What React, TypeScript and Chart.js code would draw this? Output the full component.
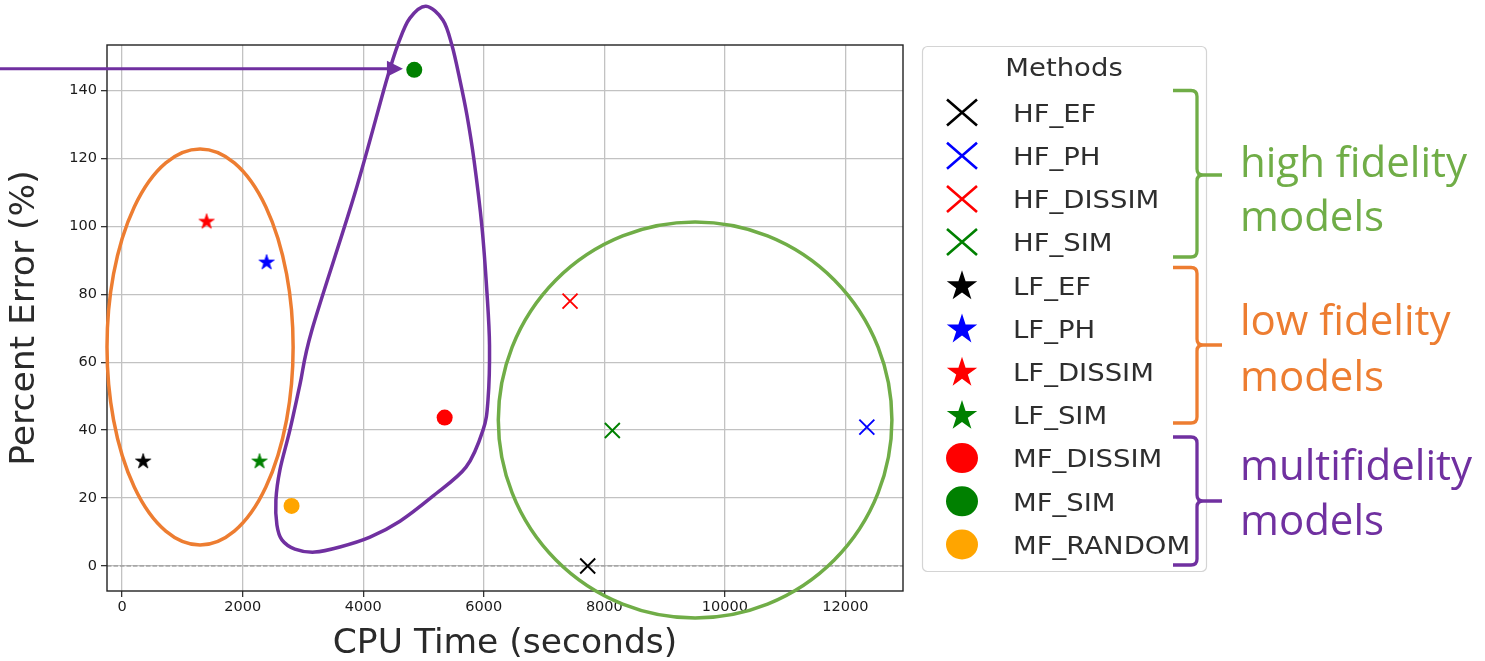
import React, { useEffect, useRef } from "react";
import { Chart, registerables } from "chart.js";

Chart.register(...registerables);

// ---------------- data ----------------
const METHODS = [
  "HF_EF", "HF_PH", "HF_DISSIM", "HF_SIM",
  "LF_EF", "LF_PH", "LF_DISSIM", "LF_SIM",
  "MF_DISSIM", "MF_SIM", "MF_RANDOM",
];
const CPU_TIME_S = [7724, 12355, 7431, 8133, 349, 2397, 1401, 2280, 5351, 4847, 2811];
const PERCENT_ERROR = [0.0, 40.9, 78.0, 39.9, 30.9, 89.5, 101.5, 30.9, 43.7, 146.1, 17.7];
const METHOD_COLORS = [
  "#000000", "#0000ff", "#ff0000", "#008000",
  "#000000", "#0000ff", "#ff0000", "#008000",
  "#ff0000", "#008000", "#ffa500",
];
const METHOD_MARKERS = [
  "x", "x", "x", "x",
  "star", "star", "star", "star",
  "circle", "circle", "circle",
];
const X_TICKS = [0, 2000, 4000, 6000, 8000, 10000, 12000];
const Y_TICKS = [0, 20, 40, 60, 80, 100, 120, 140];
const X_RANGE = [-251, 12955];
const Y_RANGE = [-7.36, 153.4];
const X_TITLE = "CPU Time (seconds)";
const Y_TITLE = "Percent Error (%)";
const LEGEND_TITLE = "Methods";
const GROUP_LABELS = [
  ["high fidelity", "models"],
  ["low fidelity", "models"],
  ["multifidelity", "models"],
];
const GROUP_COLORS = ["#70AD47", "#ED7D31", "#7030A0"];

// group outlines (data units)
const ORANGE_ELLIPSE = { cx: 1293, cy: 64.5, rx: 1544, ry: 58.3 };
const GREEN_ELLIPSE = { cx: 9506, cy: 43.0, rx: 3265, ry: 58.3 };
const PURPLE_LOOP = [
  [5041, 164.8], [5323, 160.7], [5472, 153.3], [5605, 143.0], [5721, 132.7],
  [5838, 119.5], [5970, 99.8], [6053, 80.4], [6095, 65.0], [6070, 48.9],
  [5987, 40.0], [5705, 29.1], [5150, 20.5], [4609, 13.2], [4112, 8.5],
  [3613, 5.6], [3198, 4.1], [2866, 5.0], [2651, 7.7], [2568, 12.1],
  [2551, 19.4], [2618, 28.3], [2783, 40.0], [2949, 53.3], [3149, 69.5],
  [3863, 109.8], [4388, 143.1], [4591, 154.3], [4774, 161.3],
];
const ARROW_TIP = [4659, 146.4];

const FONT = '"DejaVu Sans", sans-serif';

function starPath(ctx: CanvasRenderingContext2D, cx: number, cy: number, R: number) {
  const r = R * 0.381966;
  ctx.beginPath();
  for (let i = 0; i < 10; i++) {
    const rad = i % 2 === 0 ? R : r;
    const a = -Math.PI / 2 + (i * Math.PI) / 5;
    const px = cx + Math.cos(a) * rad;
    const py = cy + Math.sin(a) * rad;
    if (i === 0) ctx.moveTo(px, py);
    else ctx.lineTo(px, py);
  }
  ctx.closePath();
}

function makeStar(color: string, R: number) {
  const c = document.createElement("canvas");
  const s = Math.ceil(2 * R + 4);
  c.width = s;
  c.height = s;
  const ctx = c.getContext("2d")!;
  starPath(ctx, s / 2, s / 2 + 0.5, R);
  ctx.fillStyle = color;
  ctx.fill();
  ctx.strokeStyle = color;
  ctx.lineWidth = 0.8;
  ctx.lineJoin = "miter";
  ctx.stroke();
  return c;
}

function drawStretchedText(ctx: CanvasRenderingContext2D, text: string, x: number, y: number, sx: number, align: CanvasTextAlign) {
  ctx.save();
  ctx.translate(x, y);
  ctx.scale(sx, 1);
  ctx.textAlign = align;
  ctx.fillText(text, 0, 0);
  ctx.restore();
}

const zeroLinePlugin = {
  id: "zeroLine",
  beforeDatasetsDraw(chart: any) {
    const { ctx, chartArea, scales } = chart;
    const y0 = scales.y.getPixelForValue(0);
    ctx.save();
    ctx.strokeStyle = "#8a8a8a";
    ctx.lineWidth = 1;
    ctx.setLineDash([4.5, 2]);
    ctx.beginPath();
    ctx.moveTo(chartArea.left, y0);
    ctx.lineTo(chartArea.right, y0);
    ctx.stroke();
    ctx.restore();
  },
  afterDatasetsDraw(chart: any) {
    const { ctx, chartArea } = chart;
    ctx.save();
    ctx.strokeStyle = "#222";
    ctx.lineWidth = 1.4;
    ctx.strokeRect(chartArea.left, chartArea.top, chartArea.right - chartArea.left, chartArea.bottom - chartArea.top);
    ctx.restore();
  },
};

const legendPlugin = {
  id: "methodsLegend",
  afterDraw(chart: any) {
    const ctx: CanvasRenderingContext2D = chart.ctx;
    const bx = 922.5, by = 46.5, bw = 284, bh = 525;
    ctx.save();
    ctx.beginPath();
    ctx.roundRect(bx, by, bw, bh, 5);
    ctx.fillStyle = "#ffffff";
    ctx.fill();
    ctx.strokeStyle = "#d4d4d4";
    ctx.lineWidth = 1.2;
    ctx.stroke();

    ctx.fillStyle = "#2e2e2e";
    ctx.font = `25px ${FONT}`;
    ctx.textBaseline = "alphabetic";
    drawStretchedText(ctx, LEGEND_TITLE, 1064, 76, 1.1, "center");

    chart.data.datasets.forEach((ds: any, i: number) => {
      const cy = 112.5 + 43.2 * i;
      const cx = 962;
      const color = ds.markerColor;
      if (ds.markerKind === "x") {
        ctx.strokeStyle = color;
        ctx.lineWidth = 2.6;
        ctx.beginPath();
        ctx.moveTo(cx - 15, cy - 13);
        ctx.lineTo(cx + 15, cy + 13);
        ctx.moveTo(cx - 15, cy + 13);
        ctx.lineTo(cx + 15, cy - 13);
        ctx.stroke();
      } else if (ds.markerKind === "star") {
        starPath(ctx, cx, cy + 1, 16);
        ctx.fillStyle = color;
        ctx.fill();
      } else {
        ctx.beginPath();
        ctx.ellipse(cx, cy, 16, 15, 0, 0, Math.PI * 2);
        ctx.fillStyle = color;
        ctx.fill();
      }
      ctx.fillStyle = "#2e2e2e";
      ctx.font = `25px ${FONT}`;
      drawStretchedText(ctx, ds.label, 1013, cy + 9.2, 1.1, "left");
    });
    ctx.restore();
  },
};

function smoothClosed(ctx: CanvasRenderingContext2D, pts: number[][]) {
  const n = pts.length;
  ctx.beginPath();
  ctx.moveTo(pts[0][0], pts[0][1]);
  for (let i = 0; i < n; i++) {
    const p0 = pts[(i - 1 + n) % n], p1 = pts[i], p2 = pts[(i + 1) % n], p3 = pts[(i + 2) % n];
    const t = 1 / 6;
    ctx.bezierCurveTo(
      p1[0] + (p2[0] - p0[0]) * t, p1[1] + (p2[1] - p0[1]) * t,
      p2[0] - (p3[0] - p1[0]) * t, p2[1] - (p3[1] - p1[1]) * t,
      p2[0], p2[1]
    );
  }
  ctx.closePath();
}

const BRACES = [
  { top: 90.5, mid: 175, bottom: 257 },
  { top: 267.5, mid: 345, bottom: 423 },
  { top: 437, mid: 501, bottom: 565 },
];
const TEXT_BASELINES = [
  [176.7, 230.7],
  [335, 390.7],
  [480, 535],
];

const annotationPlugin = {
  id: "groupAnnotations",
  afterDraw(chart: any) {
    const ctx: CanvasRenderingContext2D = chart.ctx;
    const x = chart.scales.x, y = chart.scales.y;
    const px = (v: number) => x.getPixelForValue(v);
    const py = (v: number) => y.getPixelForValue(v);
    ctx.save();
    ctx.lineWidth = 3.5;
    ctx.lineJoin = "round";

    const ellipses: [any, string][] = [
      [ORANGE_ELLIPSE, GROUP_COLORS[1]],
      [GREEN_ELLIPSE, GROUP_COLORS[0]],
    ];
    for (const [e, color] of ellipses) {
      ctx.beginPath();
      ctx.ellipse(
        px(e.cx), py(e.cy),
        Math.abs(px(e.cx + e.rx) - px(e.cx)),
        Math.abs(py(e.cy + e.ry) - py(e.cy)),
        0, 0, Math.PI * 2
      );
      ctx.strokeStyle = color;
      ctx.stroke();
    }

    smoothClosed(ctx, PURPLE_LOOP.map((p) => [px(p[0]), py(p[1])]));
    ctx.strokeStyle = GROUP_COLORS[2];
    ctx.stroke();

    // arrow
    const tx = px(ARROW_TIP[0]), ty = py(ARROW_TIP[1]);
    ctx.lineWidth = 3.2;
    ctx.beginPath();
    ctx.moveTo(0, ty);
    ctx.lineTo(tx - 12, ty);
    ctx.stroke();
    ctx.beginPath();
    ctx.moveTo(tx, ty);
    ctx.lineTo(tx - 16, ty - 8);
    ctx.lineTo(tx - 16, ty + 8);
    ctx.closePath();
    ctx.fillStyle = GROUP_COLORS[2];
    ctx.fill();

    // braces
    const x0 = 1173, xv = 1197, xt = 1222, r = 6;
    ctx.lineWidth = 3.3;
    BRACES.forEach((b, i) => {
      ctx.strokeStyle = GROUP_COLORS[i];
      ctx.beginPath();
      ctx.moveTo(x0, b.top);
      ctx.lineTo(xv - r, b.top);
      ctx.quadraticCurveTo(xv, b.top, xv, b.top + r);
      ctx.lineTo(xv, b.mid - r);
      ctx.quadraticCurveTo(xv, b.mid, xv + r, b.mid);
      ctx.lineTo(xt, b.mid);
      ctx.moveTo(xv + r, b.mid);
      ctx.quadraticCurveTo(xv, b.mid, xv, b.mid + r);
      ctx.lineTo(xv, b.bottom - r);
      ctx.quadraticCurveTo(xv, b.bottom, xv - r, b.bottom);
      ctx.lineTo(x0, b.bottom);
      ctx.stroke();
    });

    // group labels
    ctx.font = '42px "Open Sans", sans-serif';
    ctx.textAlign = "left";
    ctx.textBaseline = "alphabetic";
    GROUP_LABELS.forEach((lines, i) => {
      ctx.fillStyle = GROUP_COLORS[i];
      lines.forEach((t, j) => ctx.fillText(t, 1240, TEXT_BASELINES[i][j]));
    });
    ctx.restore();
  },
};

export default function App() {
  const ref = useRef<HTMLCanvasElement>(null);
  useEffect(() => {
    const canvas = ref.current!;
    const datasets = METHODS.map((m, i) => {
      const kind = METHOD_MARKERS[i];
      const color = METHOD_COLORS[i];
      const base: any = {
        label: m,
        data: [{ x: CPU_TIME_S[i], y: PERCENT_ERROR[i] }],
        markerKind: kind,
        markerColor: color,
        showLine: false,
      };
      if (kind === "x") {
        return {
          ...base, pointStyle: "crossRot", pointRadius: 10.6, pointHoverRadius: 10.6,
          pointBorderColor: color, pointBackgroundColor: color, pointBorderWidth: 1.9, pointHoverBorderWidth: 1.9,
        };
      }
      if (kind === "star") {
        return {
          ...base, pointStyle: makeStar(color, 8), pointRadius: 8, pointHoverRadius: 8,
          pointBorderColor: color, pointBackgroundColor: color, pointBorderWidth: 0,
        };
      }
      return {
        ...base, pointStyle: "circle", pointRadius: 8, pointHoverRadius: 8,
        pointBorderColor: color, pointBackgroundColor: color, pointBorderWidth: 0, pointHoverBorderWidth: 0,
      };
    });

    const gridCommon = {
      color: "#c2c2c2",
      lineWidth: 1.3,
      drawTicks: true,
      tickLength: 6,
      tickColor: "#333",
      tickWidth: 1.3,
    };

    const chart = new Chart(canvas, {
      type: "scatter",
      data: { datasets },
      options: {
        animation: false,
        responsive: false,
        devicePixelRatio: 1,
        events: [],
        layout: { padding: { left: 0, top: 45, right: 582, bottom: 0 } },
        plugins: {
          legend: { display: false },
          tooltip: { enabled: false },
        },
        scales: {
          x: {
            type: "linear",
            min: X_RANGE[0],
            max: X_RANGE[1],
            afterBuildTicks: (s: any) => { s.ticks = X_TICKS.map((v) => ({ value: v })); },
            afterFit: (s: any) => { s.height = 70; },
            ticks: {
              callback: (v: any) => String(v),
              font: { family: FONT, size: 14.5 },
              color: "#1a1a1a",
              padding: 1.5,
              maxRotation: 0,
              autoSkip: false,
            },
            grid: gridCommon,
            border: { display: false },
            title: {
              display: true,
              text: X_TITLE,
              font: { family: FONT, size: 34.5, lineHeight: 1 },
              color: "#2a2a2a",
              padding: { top: 0, bottom: 0 },
            },
          },
          y: {
            type: "linear",
            min: Y_RANGE[0],
            max: Y_RANGE[1],
            afterBuildTicks: (s: any) => { s.ticks = Y_TICKS.map((v) => ({ value: v })); },
            afterFit: (s: any) => { s.width = 107; },
            ticks: {
              callback: (v: any) => String(v),
              font: { family: FONT, size: 14.5 },
              color: "#1a1a1a",
              padding: 4,
              autoSkip: false,
            },
            grid: gridCommon,
            border: { display: false },
            title: {
              display: true,
              text: Y_TITLE,
              font: { family: FONT, size: 34.5, lineHeight: 1 },
              color: "#2a2a2a",
              padding: { top: 7.4, bottom: 0 },
            },
          },
        },
      } as any,
      plugins: [zeroLinePlugin, legendPlugin, annotationPlugin],
    });
    return () => chart.destroy();
  }, []);

  return (
    <div style={{ position: "absolute", left: 0, top: 0, width: 1485, height: 661, background: "#fff" }}>
      <canvas ref={ref} width={1485} height={661} style={{ display: "block" }} />
    </div>
  );
}
